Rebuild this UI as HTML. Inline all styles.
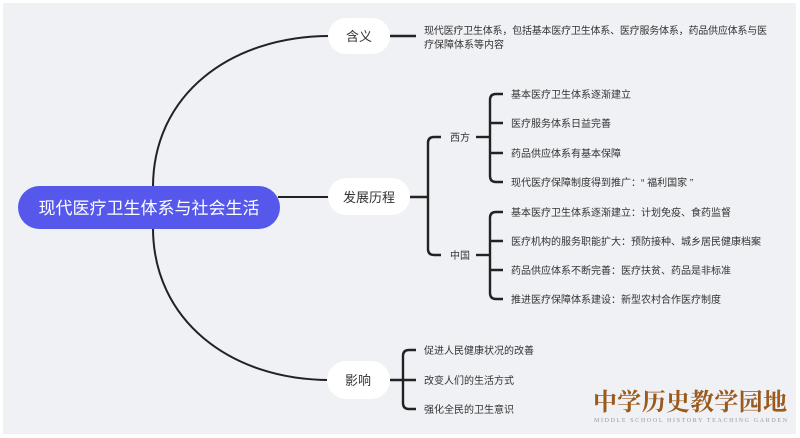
<!DOCTYPE html>
<html><head><meta charset="utf-8"><style>
html,body{margin:0;padding:0;background:#fff;width:800px;height:438px;overflow:hidden}
svg{display:block}
text{font-family:"Liberation Sans","Noto Sans CJK SC",sans-serif;fill:#333}
</style></head><body>
<svg width="800" height="438" viewBox="0 0 800 438">
<rect x="3" y="3" width="793" height="431" fill="#f0f1f5"/>
<g fill="none" stroke="#222" stroke-width="2">
<path d="M153,187 C153,95 230,36 330,36"/>
<path d="M153,228 C153,320 230,380 330,380"/>
<path d="M278,197 L330,197"/>
</g>
<g fill="none" stroke="#222" stroke-width="2.4">
<path d="M390,36 L416,36"/>
<path d="M410,197 L428,197"/>
<path d="M441,137 L434,137 Q428,137 428,143 L428,249 Q428,255 434,255 L441,255"/>
<path d="M476,137 L490,137"/>
<path d="M476,255 L490,255"/>
<path d="M503,94 L496,94 Q490,94 490,100 L490,176 Q490,182 496,182 L503,182 M490,123 L503,123 M490,153 L503,153"/>
<path d="M503,212 L496,212 Q490,212 490,218 L490,293 Q490,299 496,299 L503,299 M490,241 L503,241 M490,270 L503,270"/>
<path d="M390,380 L416,380"/>
<path d="M416,350 L409,350 Q403,350 403,356 L403,403 Q403,409 409,409 L416,409"/>
</g>
<rect x="18" y="186" width="262" height="43" rx="21.5" fill="#5558ea"/>
<text x="149" y="214" text-anchor="middle" font-size="17" style="fill:#fff">现代医疗卫生体系与社会生活</text>
<rect x="328" y="18" width="62" height="36" rx="18" fill="#fff"/>
<text x="359" y="41" text-anchor="middle" font-size="13">含义</text>
<rect x="328" y="178" width="82" height="37" rx="18.5" fill="#fff"/>
<text x="369" y="202" text-anchor="middle" font-size="13">发展历程</text>
<rect x="327" y="361" width="63" height="38" rx="19" fill="#fff"/>
<text x="358" y="385" text-anchor="middle" font-size="13">影响</text>
<g font-size="10">
<text x="424" y="34" textLength="343">现代医疗卫生体系，包括基本医疗卫生体系、医疗服务体系，药品供应体系与医</text>
<text x="424" y="48">疗保障体系等内容</text>
<text x="450" y="141">西方</text>
<text x="450" y="259">中国</text>
<text x="511" y="98">基本医疗卫生体系逐渐建立</text>
<text x="511" y="127">医疗服务体系日益完善</text>
<text x="511" y="157">药品供应体系有基本保障</text>
<text x="511" y="186">现代医疗保障制度得到推广：“ 福利国家 ”</text>
<text x="511" y="216">基本医疗卫生体系逐渐建立：计划免疫、食药监督</text>
<text x="511" y="245">医疗机构的服务职能扩大：预防接种、城乡居民健康档案</text>
<text x="511" y="274">药品供应体系不断完善：医疗扶贫、药品是非标准</text>
<text x="511" y="303">推进医疗保障体系建设：新型农村合作医疗制度</text>
<text x="424" y="354">促进人民健康状况的改善</text>
<text x="424" y="384">改变人们的生活方式</text>
<text x="424" y="413">强化全民的卫生意识</text>
</g>
<text x="593" y="410" font-size="24" font-weight="bold" textLength="194" style="fill:#9a5a1e;font-family:'Liberation Serif','Noto Serif CJK SC',serif">中学历史教学园地</text>
<text x="594" y="422" font-size="6" textLength="193" style="fill:#999;font-family:'Liberation Serif',serif">MIDDLE SCHOOL HISTORY TEACHING GARDEN</text>
</svg>
</body></html>
